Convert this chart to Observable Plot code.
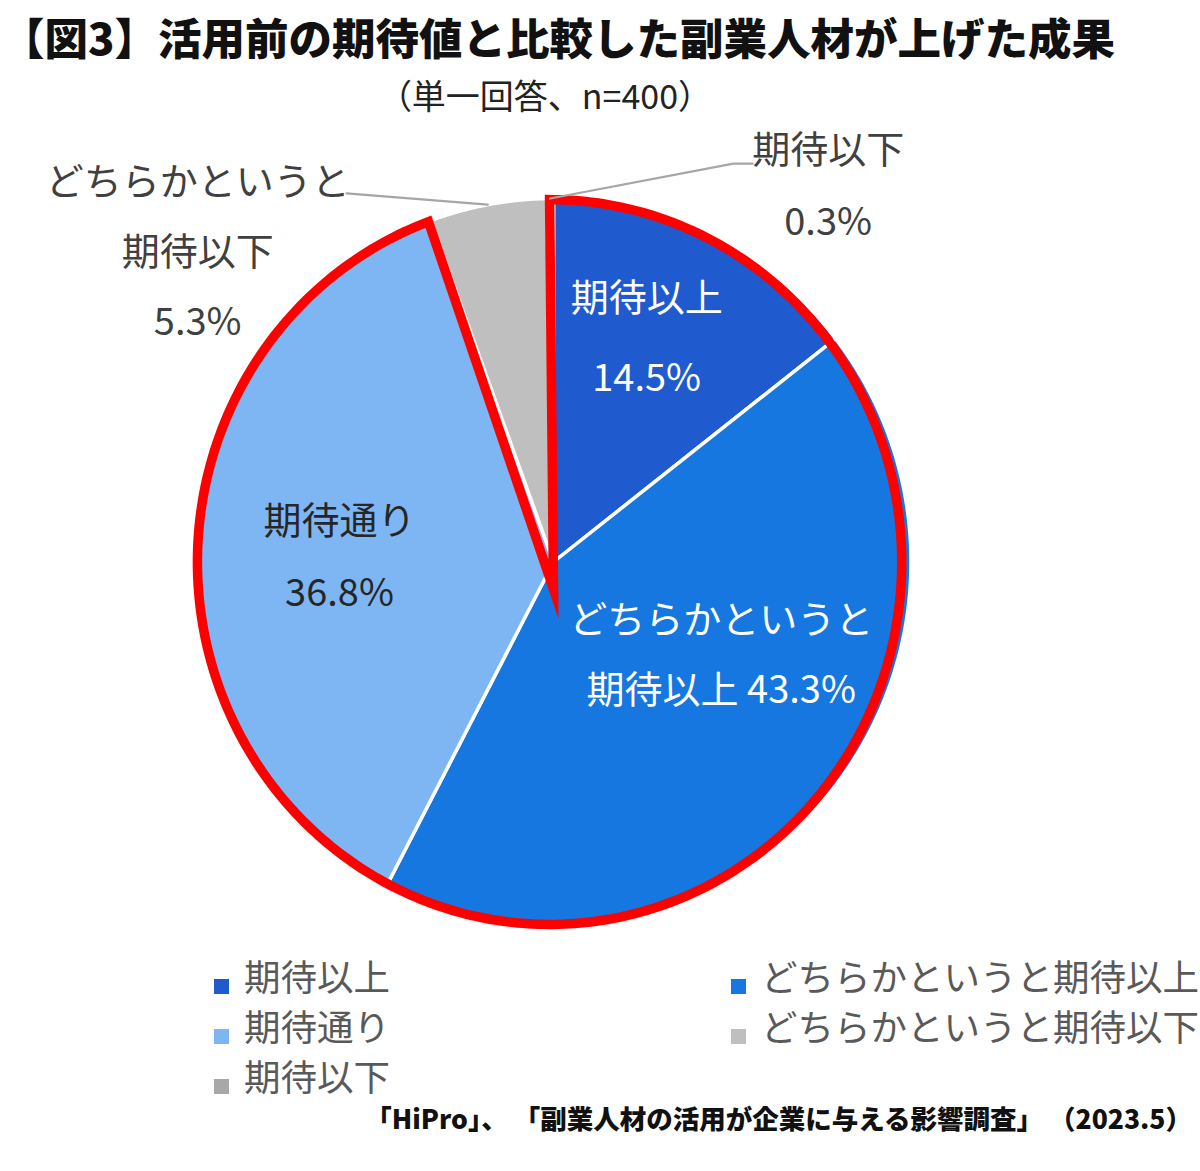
<!DOCTYPE html>
<html><head><meta charset="utf-8">
<script src="https://cdn.jsdelivr.net/npm/d3@7"></script>
<script src="https://cdn.jsdelivr.net/npm/@observablehq/plot@0.6"></script>
<style>
body{margin:0;background:#fff;font-family:"Noto Sans CJK JP","Noto Sans",sans-serif;}
#wrap{position:relative;width:1200px;height:1171px;overflow:hidden;}
#chart{position:absolute;left:0;top:0;}
.title{position:absolute;left:1px;top:15px;font-size:43.5px;font-weight:900;color:#111;white-space:nowrap;line-height:1;}
.sub{position:absolute;left:0;width:1090px;text-align:center;top:78px;font-size:34px;color:#222;white-space:nowrap;line-height:1;}
.leg{position:absolute;font-size:36.5px;color:#595959;white-space:nowrap;line-height:1;}
.leg i{display:inline-block;width:15px;height:15px;margin-right:15px;vertical-align:-3px;}
.src{position:absolute;right:8px;top:1098px;font-size:26.5px;font-weight:900;color:#111;white-space:nowrap;}
</style></head>
<body><div id="wrap">
<div class="title">【図3】活用前の期待値と比較した副業人材が上げた成果</div>
<div class="sub">（単一回答、n=400）</div>
<div id="chart"></div>
<div id="legend"></div>
<div class="src">「HiPro」、 「副業人材の活用が企業に与える影響調査」 （2023.5）</div>
</div>
<script>
// ---- data ----
const categories = ["期待以上", "どちらかというと期待以上", "期待通り", "どちらかというと期待以下", "期待以下"];
const values = [14.5, 43.3, 36.8, 5.3, 0.3];
const colors = ["#1f5bcf", "#1677e0", "#7eb6f4", "#bfbfbf", "#a8a8a8"];
const labelLines = [["期待以上", "14.5%"], ["どちらかというと", "期待以上 43.3%"], ["期待通り", "36.8%"], ["どちらかというと", "期待以下", "5.3%"], ["期待以下", "0.3%"]];
const highlighted = ["期待以上", "どちらかというと期待以上", "期待通り"];
const legendOrder = [0, 1, 2, 3, 4];

// ---- layout (label placement relative to each slice, pixel offsets) ----
const RX = 357.5, RY = 363.5;
const labelLayout = [
  {r: 0.67, dx: -12, dy: -4, gap: 80, fill: "#ffffff"},
  {r: 0.535, dx: 21, dy: -31, gap: 70, fill: "#ffffff"},
  {r: 0.60, dx: 0, dy: 10, gap: 72, fill: "#262626"},
  {r: 1.0, dx: -290, dy: 48, gap: 70, fill: "#404040"},
  {r: 1.0, dx: 278, dy: -12, gap: 72, fill: "#404040"}
];
const leaderBends = {3: [[-0.579, 1.014]], 4: [[0.503, 1.096], [0.557, 1.096]]};

const pie = d3.pie().sort(null).value(d => d.value)(categories.map((c, i) => ({cat: c, value: values[i]})));
const pol = (a, r) => [r * Math.sin(a), r * Math.cos(a)];

// slice polygons
const slicePts = [];
pie.forEach(s => {
  slicePts.push({cat: s.data.cat, x: 0, y: 0});
  const n = Math.max(2, Math.ceil((s.endAngle - s.startAngle) / 0.005));
  for (let k = 0; k <= n; k++) {
    const a = s.startAngle + (s.endAngle - s.startAngle) * k / n;
    const [x, y] = pol(a, 1);
    slicePts.push({cat: s.data.cat, x, y});
  }
});

// red highlight outline around the highlighted slices
const hl = pie.filter(s => highlighted.includes(s.data.cat));
const hA0 = d3.min(hl, s => s.startAngle), hA1 = d3.max(hl, s => s.endAngle);
const redPts = [{x: 0, y: -0.075}];
for (let k = 0; k <= 400; k++) {
  const a = hA0 + (hA1 - hA0) * k / 400;
  redPts.push({x: -0.011 + 0.985 * Math.sin(a), y: 0.997 * Math.cos(a)});
}

// labels
const labels = [];
pie.forEach((s, i) => {
  const L = labelLayout[i];
  const mid = (s.startAngle + s.endAngle) / 2;
  const [x, y] = pol(mid, L.r);
  const lines = labelLines[i];
  lines.forEach((t, j) => {
    const dy = L.dy + (j - (lines.length - 1) / 2) * L.gap;
    labels.push({text: t, x: x + L.dx / RX, y: y - dy / RY, fill: L.fill});
  });
});

// leader lines
const leaders = [];
Object.entries(leaderBends).forEach(([i, pts]) => {
  const s = pie[+i];
  const [x, y] = pol((s.startAngle + s.endAngle) / 2, 1.0);
  leaders.push({id: i, x, y});
  pts.forEach(([px, py]) => leaders.push({id: i, x: px, y: py}));
});

const chart = Plot.plot({
  width: 1200, height: 1171,
  margin: 0,
  x: {domain: [-1, 1], range: [553 - RX, 553 + RX], axis: null},
  y: {domain: [-1, 1], range: [561.5 + RY, 561.5 - RY], axis: null},
  color: {domain: categories, range: colors},
  marks: [
    Plot.line(slicePts, {x: "x", y: "y", z: "cat", fill: "cat", stroke: "#ffffff", strokeWidth: 3.5, curve: "linear-closed", strokeLinejoin: "round"}),
    Plot.line(redPts, {x: "x", y: "y", stroke: "#ff0000", strokeWidth: 9.5, curve: "linear-closed", strokeLinejoin: "miter", strokeMiterlimit: 20}),
    Plot.line(leaders, {x: "x", y: "y", z: "id", stroke: "#a6a6a6", strokeWidth: 2.2}),
    Plot.text(labels, {x: "x", y: "y", text: "text", fill: "fill", fontSize: 38, fontFamily: "Noto Sans CJK JP", textAnchor: "middle", lineAnchor: "middle"})
  ]
});
document.getElementById("chart").appendChild(chart);

// legend (two columns, row-major)
const legPos = [[214, 958], [731, 958], [214, 1008], [731, 1008], [214, 1058]];
const legend = document.getElementById("legend");
legendOrder.forEach((i, k) => {
  const d = document.createElement("div");
  d.className = "leg";
  d.style.left = legPos[k][0] + "px";
  d.style.top = legPos[k][1] + "px";
  d.innerHTML = `<i style="background:${colors[i]}"></i>${categories[i]}`;
  legend.appendChild(d);
});
</script>
</body></html>
